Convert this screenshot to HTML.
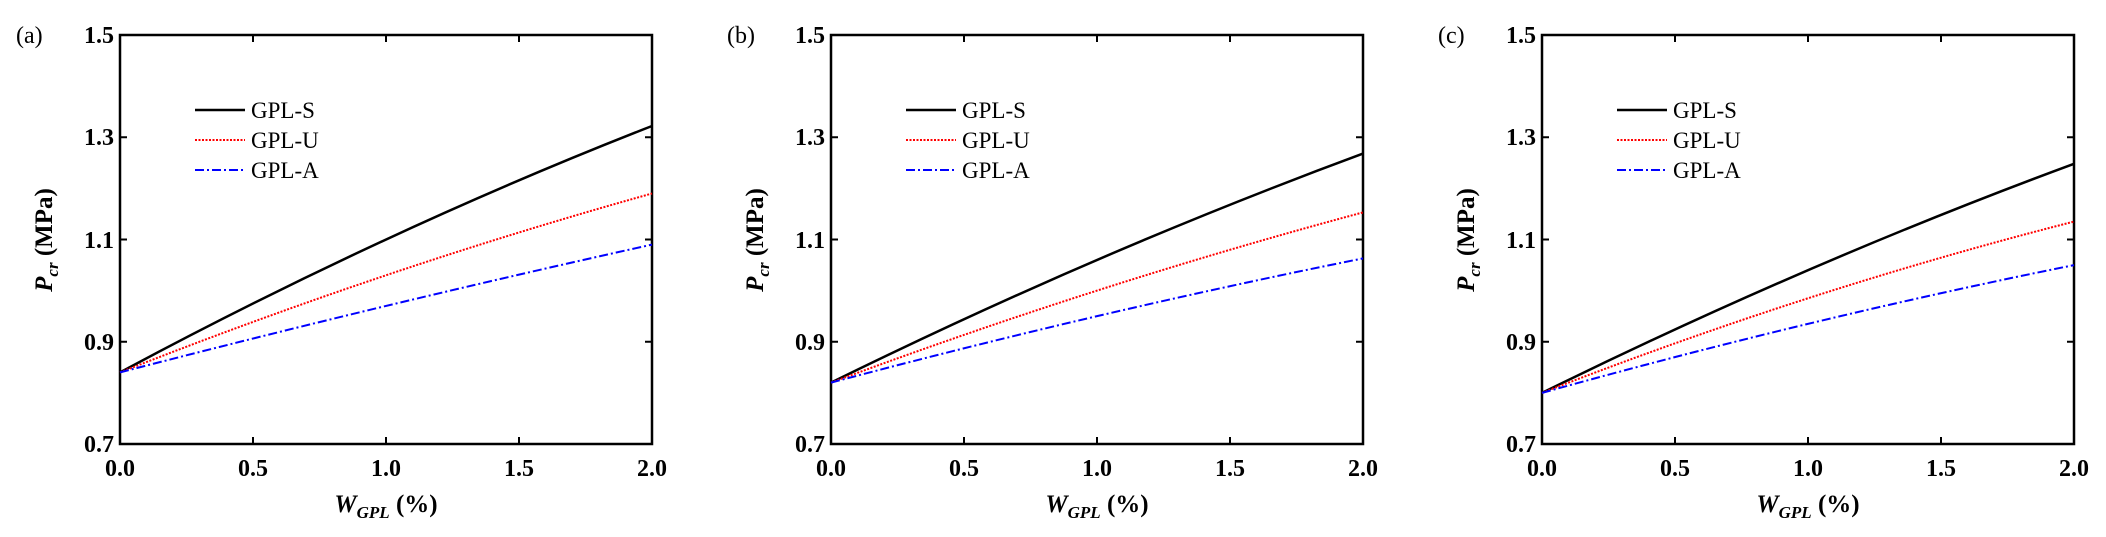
<!DOCTYPE html>
<html><head><meta charset="utf-8"><style>
html,body{margin:0;padding:0;background:#fff;}
svg{display:block;}
text{font-family:"Liberation Serif",serif;}
</style></head><body>
<svg width="2106" height="537" viewBox="0 0 2106 537" xmlns="http://www.w3.org/2000/svg">
<defs>
<g id="frame">
  <rect x="120" y="35" width="532" height="409" fill="none" stroke="#000" stroke-width="2.5"/>
  <g stroke="#000" stroke-width="2">
    <line x1="253" y1="444" x2="253" y2="437"/><line x1="386" y1="444" x2="386" y2="437"/><line x1="519" y1="444" x2="519" y2="437"/>
    <line x1="253" y1="35" x2="253" y2="42"/><line x1="386" y1="35" x2="386" y2="42"/><line x1="519" y1="35" x2="519" y2="42"/>
    <line x1="120" y1="137.25" x2="127" y2="137.25"/><line x1="120" y1="239.5" x2="127" y2="239.5"/><line x1="120" y1="341.75" x2="127" y2="341.75"/>
    <line x1="652" y1="137.25" x2="645" y2="137.25"/><line x1="652" y1="239.5" x2="645" y2="239.5"/><line x1="652" y1="341.75" x2="645" y2="341.75"/>
  </g>
  <g font-size="24" font-weight="bold" text-anchor="end">
    <text x="114" y="43">1.5</text><text x="114" y="145">1.3</text><text x="114" y="248">1.1</text><text x="114" y="350">0.9</text><text x="114" y="452">0.7</text>
  </g>
  <g font-size="24" font-weight="bold" text-anchor="middle">
    <text x="120" y="476">0.0</text><text x="253" y="476">0.5</text><text x="386" y="476">1.0</text><text x="519" y="476">1.5</text><text x="652" y="476">2.0</text>
  </g>
  <text x="386" y="512" font-size="25" text-anchor="middle" font-weight="bold"><tspan font-style="italic">W</tspan><tspan font-style="italic" font-size="17" dy="6">GPL</tspan><tspan dy="-6"> (%)</tspan></text>
  <text transform="translate(52,240) rotate(-90)" font-size="25" text-anchor="middle" font-weight="bold"><tspan font-style="italic">P</tspan><tspan font-style="italic" font-size="17" dy="6">cr</tspan><tspan dy="-6"> (MPa)</tspan></text>
  <line x1="195" y1="110" x2="245" y2="110" stroke="#000" stroke-width="2.5"/>
  <line x1="195" y1="140" x2="245" y2="140" stroke="#f00" stroke-width="2" stroke-dasharray="2,1.5"/>
  <line x1="195" y1="170" x2="245" y2="170" stroke="#00f" stroke-width="2" stroke-dasharray="9,3,2,3"/>
  <g font-size="23"><text x="251" y="118">GPL-S</text><text x="251" y="148">GPL-U</text><text x="251" y="178">GPL-A</text></g>
</g>
</defs>
<use href="#frame"/>
<use href="#frame" transform="translate(711,0)"/>
<use href="#frame" transform="translate(1422,0)"/>
<text x="16" y="43" font-size="24">(a)</text>
<text x="727" y="43" font-size="24">(b)</text>
<text x="1438" y="43" font-size="24">(c)</text>
<g fill="none">
  <path d="M120 372.4 Q386 229.8 652 126" stroke="#000" stroke-width="2.5"/>
  <path d="M120 372.4 Q386 267.6 652 193.5" stroke="#f00" stroke-width="2" stroke-dasharray="2,1.5"/>
  <path d="M120 372.4 Q386 303.4 652 244.6" stroke="#00f" stroke-width="2" stroke-dasharray="9,3,2,3"/>
  <path d="M831 382.65 Q1097 251.8 1363 153.6" stroke="#000" stroke-width="2.5"/>
  <path d="M831 382.65 Q1097 283.7 1363 212.4" stroke="#f00" stroke-width="2" stroke-dasharray="2,1.5"/>
  <path d="M831 382.65 Q1097 311.8 1363 258.4" stroke="#00f" stroke-width="2" stroke-dasharray="9,3,2,3"/>
  <path d="M1542 392.9 Q1808 262 2074 163.8" stroke="#000" stroke-width="2.5"/>
  <path d="M1542 392.9 Q1808 289.3 2074 221.6" stroke="#f00" stroke-width="2" stroke-dasharray="2,1.5"/>
  <path d="M1542 392.9 Q1808 318.7 2074 265.1" stroke="#00f" stroke-width="2" stroke-dasharray="9,3,2,3"/>
</g>
</svg>
</body></html>
